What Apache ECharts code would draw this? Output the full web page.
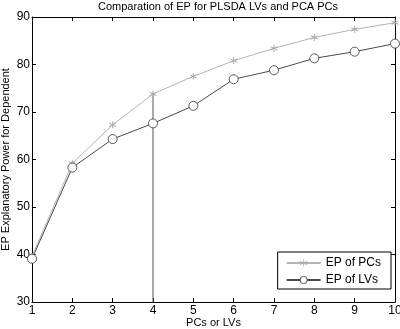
<!DOCTYPE html>
<html>
<head>
<meta charset="utf-8">
<script src="https://cdn.jsdelivr.net/npm/echarts@6/dist/echarts.min.js"></script>
<style>
  html, body { margin: 0; padding: 0; background: #fff; }
  #chart { width: 400px; height: 329px; }
</style>
</head>
<body>
<div id="chart"></div>
<script>
// number of PCs / LVs
var components = [1, 2, 3, 4, 5, 6, 7, 8, 9, 10];
// explanatory power (%)
var epPCs = [39.6, 59.2, 67.3, 73.8, 77.5, 80.8, 83.4, 85.7, 87.4, 88.8];
var epLVs = [39.1, 58.3, 64.3, 67.6, 71.3, 76.9, 78.8, 81.3, 82.7, 84.4];
var cutComponent = 4;
var yMin = 30, yMax = 90;

var font = 'Liberation Sans, Arial, sans-serif';
var asterisk = 'path://M5 0L5 10M0.7 2.5L9.3 7.5M0.7 7.5L9.3 2.5';

var chart = echarts.init(document.getElementById('chart'));

function pairs(vals) {
    return components.map(function (c, i) { return [c, vals[i]]; });
}

var boxAxis = {
    axisLine: { show: true, onZero: false, lineStyle: { color: '#000', width: 1 } },
    axisTick: { show: true, inside: true, length: 4, lineStyle: { color: '#000' } },
    splitLine: { show: false }
};

chart.setOption({
    animation: false,
    textStyle: { fontFamily: font },
    title: {
        text: 'Comparation of EP for PLSDA LVs and PCA PCs',
        left: 213, top: -4, textAlign: 'center',
        textStyle: { fontSize: 11, fontWeight: 'normal', color: '#000', fontFamily: font }
    },
    grid: { left: 32, right: 5, top: 17, bottom: 27, containLabel: false, outerBoundsMode: 'none' },
    legend: {
        data: ['EP of PCs', 'EP of LVs'],
        orient: 'vertical',
        right: 9, bottom: 40,
        padding: [5, 10, 3, 8],
        itemGap: 5,
        itemWidth: 34, itemHeight: 9,
        itemStyle: { borderWidth: 0.8 },
        borderColor: '#000', borderWidth: 1,
        backgroundColor: '#fff',
        textStyle: { fontSize: 12, color: '#000', fontFamily: font }
    },
    xAxis: [
        Object.assign({}, boxAxis, {
            type: 'value', min: 1, max: 10, interval: 1, position: 'bottom',
            name: 'PCs or LVs', nameLocation: 'middle', nameGap: 15, nameMoveOverlap: false,
            nameTextStyle: { fontSize: 11, color: '#000' },
            axisLabel: { fontSize: 12, color: '#000', margin: 3 }
        }),
        Object.assign({}, boxAxis, {
            type: 'value', min: 1, max: 10, interval: 1, position: 'top',
            axisLabel: { show: false }
        })
    ],
    yAxis: [
        Object.assign({}, boxAxis, {
            type: 'value', min: yMin, max: yMax, interval: 10, position: 'left',
            name: 'EP Explanatory Power for Dependent', nameLocation: 'middle', nameGap: 21, nameMoveOverlap: false,
            nameTextStyle: { fontSize: 11, color: '#000' },
            axisLabel: { fontSize: 12, color: '#000', margin: 2 }
        }),
        Object.assign({}, boxAxis, {
            type: 'value', min: yMin, max: yMax, interval: 10, position: 'right',
            axisLabel: { show: false }
        })
    ],
    series: [
        {
            name: 'EP of PCs',
            type: 'line',
            data: pairs(epPCs),
            symbol: asterisk,
            symbolSize: 7,
            showAllSymbol: true,
            lineStyle: { color: '#b4b4b4', width: 1 },
            itemStyle: { color: '#a8a8a8', borderColor: '#a8a8a8', borderWidth: 1 },
            z: 3
        },
        {
            name: 'EP of LVs',
            type: 'line',
            data: pairs(epLVs),
            symbol: 'circle',
            symbolSize: 9,
            showAllSymbol: true,
            lineStyle: { color: '#4a4a4a', width: 1 },
            itemStyle: { color: '#fff', borderColor: '#333', borderWidth: 0.8 },
            z: 4
        },
        {
            name: 'cut',
            type: 'line',
            data: [[cutComponent, yMin], [cutComponent, epPCs[cutComponent - 1]]],
            symbol: 'none',
            silent: true,
            lineStyle: { color: '#555', width: 1 },
            z: 2
        }
    ]
});
</script>
</body>
</html>
